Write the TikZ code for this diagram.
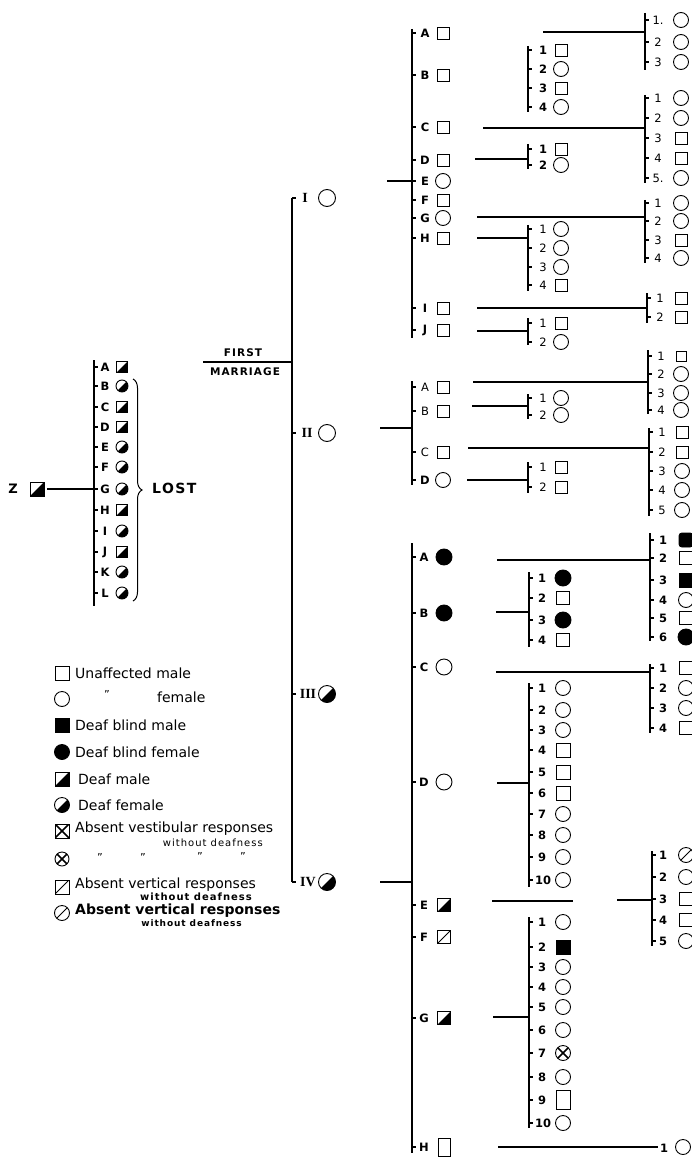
\documentclass[tikz,border=0pt]{standalone}
\usepackage{fontspec}
\setmainfont{DejaVu Sans}
\newfontfamily\romfont{Liberation Serif}
\newfontfamily\capfont[LetterSpace=10]{DejaVu Sans}
\newfontfamily\subfont[LetterSpace=10]{DejaVu Sans}
\usetikzlibrary{decorations.pathreplacing}

\tikzset{
  ln/.style={line width=1.2pt},
  sym/.style={draw, line width=0.9pt, inner sep=0pt, outer sep=0pt},
  umale/.style={sym, rectangle, minimum width=12pt, minimum height=12pt},
  ufem/.style={sym, circle, minimum size=15pt},
  dbmale/.style={umale, fill=black},
  dbfem/.style={ufem, fill=black},
  halffill/.style={path picture={\fill[black] (path picture bounding box.south west) -- (path picture bounding box.south east) -- (path picture bounding box.north east) -- cycle;}},
  dmale/.style={umale, halffill},
  dfem/.style={ufem, halffill},
  slashed/.style={path picture={\draw[line width=0.9pt] (path picture bounding box.south west) -- (path picture bounding box.north east);}},
  crossed/.style={path picture={\draw[line width=1.5pt] (path picture bounding box.south west) -- (path picture bounding box.north east) (path picture bounding box.north west) -- (path picture bounding box.south east);}},
  avmale/.style={umale, slashed},
  avfem/.style={ufem, slashed},
  avsmale/.style={umale, crossed},
  avsfem/.style={ufem, crossed},
  lab/.style={inner sep=0pt, font=\fontsize{11.5}{13}\selectfont},
  blab/.style={inner sep=0pt, font=\bfseries\fontsize{11.5}{13}\selectfont},
  romlab/.style={inner sep=0pt, font=\romfont\bfseries\fontsize{14}{16}\selectfont},
  legtext/.style={inner sep=0pt, anchor=west, font=\fontsize{14}{16}\selectfont},
  legsub/.style={inner sep=0pt, anchor=east, font=\subfont\fontsize{10}{12}\selectfont},
  ditto/.style={inner sep=0pt, font=\fontsize{11}{12}\selectfont},
  capstext/.style={inner sep=0pt, font=\capfont\bfseries\fontsize{10.5}{12}\selectfont},
}

\newcommand\pkid[7]{%
  \coordinate (#1t) at (#2,#3);
  \draw[ln] (#1t) -- ++(4,0);
  \node[lab] (#1l) at (#2+#6,#3) {#4};
  \node[#5] (#1) at (#2+#7,#3) {};
}
\newcommand\sibline[4]{%
  \coordinate (#1a) at (#2,#3);
  \coordinate (#1b) at (#2,#4);
  \draw[ln] (#1a) -- (#1b);
}
\newcommand\joinline[4]{%
  \coordinate (#1a) at (#2,#4);
  \coordinate (#1b) at (#3,#4);
  \draw[ln] (#1a) -- (#1b);
}

\begin{document}
\begin{tikzpicture}[x=1pt,y=-1pt]
\useasboundingbox (0,0) rectangle (692,1158);
\clip (0,0) rectangle (692,1158);
\fill[white] (0,0) rectangle (692,1158);

% ---------------- earlier generation ----------------
\begin{scope}[lab/.style={blab}]
\sibline{SL}{94}{360}{606}
\pkid{LA}{94}{367}{A}{dmale,minimum size=11pt}{11}{28}
\pkid{LB}{94}{386}{B}{dfem,minimum size=12pt}{11}{28}
\pkid{LC}{94}{407}{C}{dmale,minimum size=11pt}{11}{28}
\pkid{LD}{94}{427}{D}{dmale,minimum size=11pt}{11}{28}
\pkid{LE}{94}{447}{E}{dfem,minimum size=12pt}{11}{28}
\pkid{LF}{94}{467}{F}{dfem,minimum size=12pt}{11}{28}
\pkid{LG}{94}{489}{G}{dfem,minimum size=12pt}{11}{28}
\pkid{LH}{94}{510}{H}{dmale,minimum size=11pt}{11}{28}
\pkid{LI}{94}{531}{I}{dfem,minimum size=12pt}{11}{28}
\pkid{LJ}{94}{552}{J}{dmale,minimum size=11pt}{11}{28}
\pkid{LK}{94}{572}{K}{dfem,minimum size=12pt}{11}{28}
\pkid{LL}{94}{593}{L}{dfem,minimum size=12pt}{11}{28}
\node[lab,font=\bfseries\fontsize{13}{15}\selectfont] (Zl) at (13,489) {Z};
\end{scope}
\node[dmale,minimum size=14pt] (Z) at (37,489) {};
\coordinate (Zc) at (47,489);
\draw[ln] (Zc) -- (LGt);

\coordinate (BrA) at (133,379);
\coordinate (BrB) at (133,601);
\draw[line width=1pt, decorate, decoration={brace, amplitude=9pt}] (BrA) -- (BrB);
\node[inner sep=0pt, anchor=west, font=\capfont\bfseries\fontsize{14}{16}\selectfont] (lost) at (152,488) {LOST};

% ---------------- first marriage ----------------
\joinline{FM}{203}{292}{362}
\node[capstext] (FMt1) at (243,353) {FIRST};
\node[capstext] (FMt2) at (245,372) {MARRIAGE};

\sibline{SP}{292}{198}{882}
\begin{scope}[lab/.style={romlab}]
\pkid{P1}{292}{198}{I}{ufem,minimum size=17pt}{13}{35}
\pkid{P2}{292}{433}{II}{ufem,minimum size=17pt}{15}{35}
\pkid{P3}{292}{694}{III}{dfem,minimum size=17pt}{16}{35}
\pkid{P4}{292}{882}{IV}{dfem,minimum size=17pt}{16}{35}
\end{scope}

% ---------------- children of I ----------------
\joinline{J1}{387}{412}{181}
\sibline{S1}{412}{29}{338}
\begin{scope}[lab/.style={blab}]
\pkid{K1A}{412}{33}{A}{umale}{13}{31}
\pkid{K1B}{412}{75}{B}{umale}{13}{31}
\pkid{K1C}{412}{127}{C}{umale}{13}{31}
\pkid{K1D}{412}{160}{D}{umale}{13}{31}
\pkid{K1E}{412}{181}{E}{ufem}{13}{31}
\pkid{K1F}{412}{200}{F}{umale}{13}{31}
\pkid{K1G}{412}{218}{G}{ufem}{13}{31}
\pkid{K1H}{412}{238}{H}{umale}{13}{31}
\pkid{K1I}{412}{308}{I}{umale}{13}{31}
\pkid{K1J}{412}{330}{J}{umale}{13}{31}
\end{scope}

% A
\joinline{J1A}{543}{645}{32}
\sibline{S1A}{645}{13}{70}
\pkid{K1A1}{645}{20}{1.}{ufem}{13}{36}
\pkid{K1A2}{645}{42}{2}{ufem}{13}{36}
\pkid{K1A3}{645}{62}{3}{ufem}{13}{36}
% B
\sibline{S1B}{528}{46}{112}
\begin{scope}[lab/.style={blab}]
\pkid{K1B1}{528}{50}{1}{umale}{15}{33}
\pkid{K1B2}{528}{69}{2}{ufem}{15}{33}
\pkid{K1B3}{528}{88}{3}{umale}{15}{33}
\pkid{K1B4}{528}{107}{4}{ufem}{15}{33}
\end{scope}
% C
\joinline{J1C}{483}{645}{128}
\sibline{S1C}{645}{95}{183}
\pkid{K1C1}{645}{98}{1}{ufem}{13}{36}
\pkid{K1C2}{645}{118}{2}{ufem}{13}{36}
\pkid{K1C3}{645}{138}{3}{umale}{13}{36}
\pkid{K1C4}{645}{158}{4}{umale}{13}{36}
\pkid{K1C5}{645}{178}{5.}{ufem}{13}{36}
% D
\joinline{J1D}{475}{528}{159}
\sibline{S1D}{528}{144}{169}
\begin{scope}[lab/.style={blab}]
\pkid{K1D1}{528}{149}{1}{umale}{15}{33}
\pkid{K1D2}{528}{165}{2}{ufem}{15}{33}
\end{scope}
% G
\joinline{J1G}{477}{645}{217}
\sibline{S1G}{645}{200}{263}
\pkid{K1G1}{645}{203}{1}{ufem}{13}{36}
\pkid{K1G2}{645}{221}{2}{ufem}{13}{36}
\pkid{K1G3}{645}{240}{3}{umale}{13}{36}
\pkid{K1G4}{645}{258}{4}{ufem}{13}{36}
% H
\joinline{J1H}{477}{528}{238}
\sibline{S1H}{528}{225}{291}
\pkid{K1H1}{528}{229}{1}{ufem}{15}{33}
\pkid{K1H2}{528}{248}{2}{ufem}{15}{33}
\pkid{K1H3}{528}{267}{3}{ufem}{15}{33}
\pkid{K1H4}{528}{285}{4}{umale}{15}{33}
% I
\joinline{J1I}{477}{647}{308}
\sibline{S1I}{647}{293}{323}
\pkid{K1I1}{647}{298}{1}{umale}{13}{34}
\pkid{K1I2}{647}{317}{2}{umale}{13}{34}
% J
\joinline{J1J}{477}{528}{331}
\sibline{S1J}{528}{318}{345}
\pkid{K1J1}{528}{323}{1}{umale}{15}{33}
\pkid{K1J2}{528}{342}{2}{ufem}{15}{33}

% ---------------- children of II ----------------
\joinline{J2}{380}{412}{428}
\sibline{S2}{412}{381}{485}
\pkid{K2A}{412}{387}{A}{umale}{13}{31}
\pkid{K2B}{412}{411}{B}{umale}{13}{31}
\pkid{K2C}{412}{452}{C}{umale}{13}{31}
\begin{scope}[lab/.style={blab}]
\pkid{K2D}{412}{480}{D}{ufem}{13}{31}
\end{scope}
% A
\joinline{J2A}{473}{648}{382}
\sibline{S2A}{648}{350}{414}
\pkid{K2A1}{648}{356}{1}{umale,minimum size=10pt}{13}{33}
\pkid{K2A2}{648}{374}{2}{ufem}{13}{33}
\pkid{K2A3}{648}{393}{3}{ufem}{13}{33}
\pkid{K2A4}{648}{410}{4}{ufem}{13}{33}
% B
\joinline{J2B}{472}{528}{406}
\sibline{S2B}{528}{394}{419}
\pkid{K2B1}{528}{398}{1}{ufem}{15}{33}
\pkid{K2B2}{528}{415}{2}{ufem}{15}{33}
% C
\joinline{J2C}{468}{649}{448}
\sibline{S2C}{649}{428}{516}
\pkid{K2C1}{649}{432}{1}{umale}{13}{33}
\pkid{K2C2}{649}{452}{2}{umale}{13}{33}
\pkid{K2C3}{649}{471}{3}{ufem}{13}{33}
\pkid{K2C4}{649}{490}{4}{ufem}{13}{33}
\pkid{K2C5}{649}{510}{5}{ufem}{13}{33}
% D
\joinline{J2D}{467}{528}{480}
\sibline{S2D}{528}{462}{493}
\pkid{K2D1}{528}{467}{1}{umale}{15}{33}
\pkid{K2D2}{528}{487}{2}{umale}{15}{33}

% ---------------- children of IV ----------------
\begin{scope}[lab/.style={blab}, ln/.style={line width=1.4pt}]
\joinline{J4}{380}{412}{882}
\sibline{S4}{412}{543}{1153}
\pkid{K4A}{412}{557}{A}{dbfem,minimum size=16pt}{12}{32}
\pkid{K4B}{412}{613}{B}{dbfem,minimum size=16pt}{12}{32}
\pkid{K4C}{412}{667}{C}{ufem,minimum size=16pt}{12}{32}
\pkid{K4D}{412}{782}{D}{ufem,minimum size=16pt}{12}{32}
\pkid{K4E}{412}{905}{E}{dmale,minimum size=13pt}{12}{32}
\pkid{K4F}{412}{937}{F}{avmale,minimum size=13pt}{12}{32}
\pkid{K4G}{412}{1018}{G}{dmale,minimum size=13pt}{12}{32}
\pkid{K4H}{412}{1147}{H}{umale,minimum width=12pt,minimum height=18pt}{12}{32}
% A
\joinline{J4A}{497}{650}{560}
\sibline{S4A}{650}{533}{641}
\pkid{K4A1}{650}{540}{1}{dbmale,minimum size=14pt,rounded corners=3pt}{13}{36}
\pkid{K4A2}{650}{558}{2}{umale,minimum size=13pt}{13}{36}
\pkid{K4A3}{650}{580}{3}{dbmale,minimum size=14pt}{13}{36}
\pkid{K4A4}{650}{600}{4}{ufem}{13}{36}
\pkid{K4A5}{650}{618}{5}{umale,minimum size=13pt}{13}{36}
\pkid{K4A6}{650}{637}{6}{dbfem,minimum size=16pt}{13}{36}
% B
\joinline{J4B}{496}{529}{612}
\sibline{S4B}{529}{572}{647}
\pkid{K4B1}{529}{578}{1}{dbfem,minimum size=16pt}{13}{34}
\pkid{K4B2}{529}{598}{2}{umale,minimum size=13pt}{13}{34}
\pkid{K4B3}{529}{620}{3}{dbfem,minimum size=16pt}{13}{34}
\pkid{K4B4}{529}{640}{4}{umale,minimum size=13pt}{13}{34}
% C
\joinline{J4C}{496}{650}{672}
\sibline{S4C}{650}{664}{733}
\pkid{K4C1}{650}{668}{1}{umale,minimum size=13pt}{13}{36}
\pkid{K4C2}{650}{688}{2}{ufem}{13}{36}
\pkid{K4C3}{650}{708}{3}{ufem}{13}{36}
\pkid{K4C4}{650}{728}{4}{umale,minimum size=13pt}{13}{36}
% D
\joinline{J4D}{497}{529}{783}
\sibline{S4D}{529}{683}{887}
\pkid{K4D1}{529}{688}{1}{ufem}{13}{34}
\pkid{K4D2}{529}{710}{2}{ufem}{13}{34}
\pkid{K4D3}{529}{730}{3}{ufem}{13}{34}
\pkid{K4D4}{529}{750}{4}{umale,minimum size=14pt}{13}{34}
\pkid{K4D5}{529}{772}{5}{umale,minimum size=14pt}{13}{34}
\pkid{K4D6}{529}{793}{6}{umale,minimum size=14pt}{13}{34}
\pkid{K4D7}{529}{814}{7}{ufem}{13}{34}
\pkid{K4D8}{529}{835}{8}{ufem}{13}{34}
\pkid{K4D9}{529}{857}{9}{ufem}{13}{34}
\pkid{K4D10}{529}{880}{10}{ufem}{14}{34}
% E
\joinline{J4Ea}{492}{573}{901}
\joinline{J4Eb}{617}{652}{900}
\sibline{S4E}{652}{851}{946}
\pkid{K4E1}{652}{855}{1}{avfem}{11}{34}
\pkid{K4E2}{652}{877}{2}{ufem}{11}{34}
\pkid{K4E3}{652}{899}{3}{umale,minimum size=13pt}{11}{34}
\pkid{K4E4}{652}{920}{4}{umale,minimum size=13pt}{11}{34}
\pkid{K4E5}{652}{941}{5}{ufem}{11}{34}
% G
\joinline{J4G}{493}{529}{1017}
\sibline{S4G}{529}{917}{1128}
\pkid{K4G1}{529}{922}{1}{ufem}{13}{34}
\pkid{K4G2}{529}{947}{2}{dbmale,minimum size=14pt}{13}{34}
\pkid{K4G3}{529}{967}{3}{ufem}{13}{34}
\pkid{K4G4}{529}{987}{4}{ufem}{13}{34}
\pkid{K4G5}{529}{1007}{5}{ufem}{13}{34}
\pkid{K4G6}{529}{1030}{6}{ufem}{13}{34}
\pkid{K4G7}{529}{1053}{7}{avsfem}{13}{34}
\pkid{K4G8}{529}{1077}{8}{ufem}{13}{34}
\pkid{K4G9}{529}{1100}{9}{umale,minimum width=14pt,minimum height=19pt}{13}{34}
\pkid{K4G10}{529}{1123}{10}{ufem}{14}{34}
% H
\joinline{J4H}{498}{658}{1147}
\node[lab] (K4H1l) at (664,1148) {1};
\node[ufem] (K4H1) at (683,1147) {};
\end{scope}

% ---------------- legend ----------------
\node[umale,minimum size=14pt] (G1) at (62,673) {};
\node[legtext] (G1t) at (75,673) {Unaffected male};
\node[ufem,minimum size=15pt] (G2) at (62,699) {};
\node[ditto] (G2d) at (107,694) {''};
\node[legtext] (G2t) at (157,697) {female};
\node[dbmale,minimum size=14pt] (G3) at (62,725) {};
\node[legtext] (G3t) at (75,725) {Deaf blind male};
\node[dbfem,minimum size=15pt] (G4) at (62,752) {};
\node[legtext] (G4t) at (75,752) {Deaf blind female};
\node[dmale,minimum size=14pt] (G5) at (62,779) {};
\node[legtext] (G5t) at (78,779) {Deaf male};
\node[dfem,minimum size=15pt] (G6) at (62,805) {};
\node[legtext] (G6t) at (78,805) {Deaf female};
\node[avsmale,minimum size=14pt] (G7) at (62,831) {};
\node[legtext] (G7t) at (75,829) {Absent vestibular responses};
\node[legsub] (G7s) at (263,843) {without deafness};
\node[avsfem,minimum size=14pt] (G8) at (62,859) {};
\node[ditto] (G8a) at (100,857) {''};
\node[ditto] (G8b) at (143,857) {''};
\node[ditto] (G8c) at (200,856) {''};
\node[ditto] (G8d) at (243,856) {''};
\node[avmale,minimum size=14pt] (G9) at (62,887) {};
\node[legtext] (G9t) at (75,885) {Absent vertical responses};
\node[legsub,font=\subfont\bfseries\fontsize{10}{12}\selectfont] (G9s) at (252,897) {without deafness};
\node[avfem,minimum size=15pt] (G10) at (62,913) {};
\node[legtext,font=\bfseries\fontsize{14}{16}\selectfont] (G10t) at (75,911) {Absent vertical responses};
\node[legsub,font=\subfont\bfseries\fontsize{9}{11}\selectfont] (G10s) at (242,923) {without deafness};
\end{tikzpicture}
\end{document}
